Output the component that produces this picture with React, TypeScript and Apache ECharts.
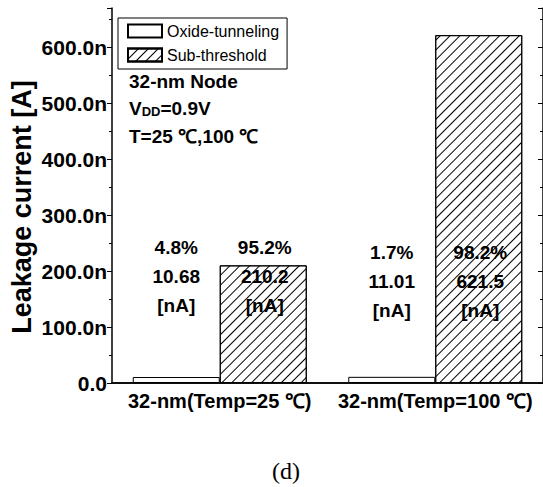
import React, { useEffect, useRef } from "react";
import * as echarts from "echarts";

const CATEGORIES = ["32-nm(Temp=25 \u2103)", "32-nm(Temp=100 \u2103)"];
const OXIDE = [10.68, 11.01];
const SUB = [210.2, 621.5];
const OXIDE_PCT = ["4.8%", "1.7%"];
const SUB_PCT = ["95.2%", "98.2%"];
const LABEL_ANCHOR = [190, 181];
const TICK_LABELS = ["0.0", "100.0n", "200.0n", "300.0n", "400.0n", "500.0n", "600.0n"];
const SERIES_NAMES = ["Oxide-tunneling", "Sub-threshold"];

const FONT = "'Liberation Sans', Arial, sans-serif";

export default function App() {
  const ref = useRef<HTMLDivElement>(null);
  useEffect(() => {
    document.body.style.margin = "0";
    const chart = echarts.init(ref.current!, null, { renderer: "svg" });
    const black = "#000";
    const yBase = { type: "value", min: 0, max: 670, splitLine: { show: false } } as any;
    const decal = {
      symbol: "rect",
      symbolSize: 1,
      color: "#000",
      backgroundColor: "#fff",
      dashArrayX: [1, 0],
      dashArrayY: [1, 6],
      rotation: -Math.PI / 4,
    };
    const labelStyle = {
      show: true,
      position: "inside",
      fontFamily: FONT,
      fontWeight: "bold",
      fontSize: 19,
      color: black,
      opacity: 1,
      lineHeight: 29,
    };
    chart.setOption({
      animation: false,
      grid: { left: 112, top: 8, width: 432, height: 375 },
      legend: {
        data: SERIES_NAMES,
        orient: "vertical",
        left: 118,
        top: 18,
        icon: "rect",
        itemWidth: 34,
        itemHeight: 13,
        itemGap: 8,
        padding: [5, 8, 6, 9],
        borderColor: black,
        borderWidth: 1,
        borderRadius: 0,
        textStyle: { fontFamily: FONT, fontSize: 16, color: black },
      },
      xAxis: [
        {
          type: "category",
          data: CATEGORIES,
          position: "bottom",
          axisLine: { lineStyle: { color: black, width: 1.5 } },
          axisTick: { inside: true, length: 5, lineStyle: { color: black } },
          axisLabel: { interval: 0, fontFamily: FONT, fontWeight: "bold", fontSize: 20, color: black, margin: 8 },
        },
        {
          type: "category",
          data: CATEGORIES,
          position: "top",
          axisLine: { lineStyle: { color: black, width: 1.5 } },
          axisTick: { inside: true, length: 5, alignWithLabel: true, lineStyle: { color: black } },
          axisLabel: { show: false },
        },
        {
          type: "category",
          data: CATEGORIES,
          position: "top",
          axisLine: { show: false },
          axisTick: { inside: true, length: 5, lineStyle: { color: black } },
          axisLabel: { show: false },
        },
      ],
      yAxis: [
        {
          ...yBase,
          position: "left",
          interval: 100,
          axisLine: { show: true, lineStyle: { color: black, width: 1.5 } },
          axisTick: { show: true, inside: false, length: 5, lineStyle: { color: black } },
          axisLabel: {
            fontFamily: FONT,
            fontWeight: "bold",
            fontSize: 21,
            color: black,
            margin: 5,
            formatter: (v: number) => (v % 100 === 0 ? TICK_LABELS[v / 100] ?? "" : ""),
          },
        },
        {
          ...yBase,
          position: "left",
          interval: 50,
          axisLine: { show: false },
          axisTick: { show: true, inside: false, length: 3, lineStyle: { color: black } },
          axisLabel: { show: false },
        },
        {
          ...yBase,
          position: "right",
          interval: 100,
          axisLine: { show: true, lineStyle: { color: black, width: 1.5 } },
          axisTick: { show: true, inside: true, length: 5, lineStyle: { color: black } },
          axisLabel: { show: false },
        },
        {
          ...yBase,
          position: "right",
          interval: 50,
          axisLine: { show: false },
          axisTick: { show: true, inside: true, length: 3, lineStyle: { color: black } },
          axisLabel: { show: false },
        },
      ],
      series: [
        {
          name: SERIES_NAMES[0],
          type: "bar",
          data: OXIDE,
          barWidth: 87,
          barGap: "0%",
          itemStyle: { color: "#fff", borderColor: black, borderWidth: 1 },
        },
        {
          name: SERIES_NAMES[1],
          type: "bar",
          data: SUB,
          barWidth: 87,
          barGap: "0%",
          itemStyle: { color: "#fff", borderColor: black, borderWidth: 1, decal },
        },
        {
          type: "scatter",
          symbolSize: 0,
          silent: true,
          z: 10,
          itemStyle: { opacity: 1 },
          data: LABEL_ANCHOR.map((y, i) => [i, y]),
          label: {
            ...labelStyle,
            offset: [-43.5, 0],
            formatter: (p: any) => `${OXIDE_PCT[p.dataIndex]}\n${OXIDE[p.dataIndex]}\n[nA]`,
          },
        },
        {
          type: "scatter",
          symbolSize: 0,
          silent: true,
          z: 10,
          itemStyle: { opacity: 1 },
          data: LABEL_ANCHOR.map((y, i) => [i, y]),
          label: {
            ...labelStyle,
            offset: [45, 0],
            formatter: (p: any) => `${SUB_PCT[p.dataIndex]}\n${SUB[p.dataIndex]}\n[nA]`,
          },
        },
      ],
      graphic: [
        {
          type: "text",
          x: 22,
          y: 207,
          rotation: Math.PI / 2,
          style: {
            text: "Leakage current [A]",
            fontFamily: FONT,
            fontWeight: "bold",
            fontSize: 27,
            fill: black,
            align: "center",
            verticalAlign: "middle",
          },
        },
        {
          type: "text",
          left: 129,
          top: 72,
          style: { text: "32-nm Node", fontFamily: FONT, fontWeight: "bold", fontSize: 19, fill: black },
        },
        {
          type: "text",
          left: 129,
          top: 99,
          style: {
            text: "{b|V}{s|DD}{b|=0.9V}",
            rich: {
              b: { fontFamily: FONT, fontWeight: "bold", fontSize: 19, fill: black, lineHeight: 22, verticalAlign: "bottom" },
              s: { fontFamily: FONT, fontWeight: "bold", fontSize: 13, fill: black, lineHeight: 22, verticalAlign: "bottom" },
            },
          },
        },
        {
          type: "text",
          left: 129,
          top: 127,
          style: { text: "T=25 \u2103,100 \u2103", fontFamily: FONT, fontWeight: "bold", fontSize: 19, fill: black },
        },
        {
          type: "text",
          left: 272,
          top: 459,
          style: { text: "(d)", fontFamily: "'Liberation Serif', 'Times New Roman', serif", fontSize: 24, fill: black },
        },
      ],
    });
    return () => chart.dispose();
  }, []);
  return <div ref={ref} style={{ width: 543, height: 487, background: "#fff" }} />;
}
